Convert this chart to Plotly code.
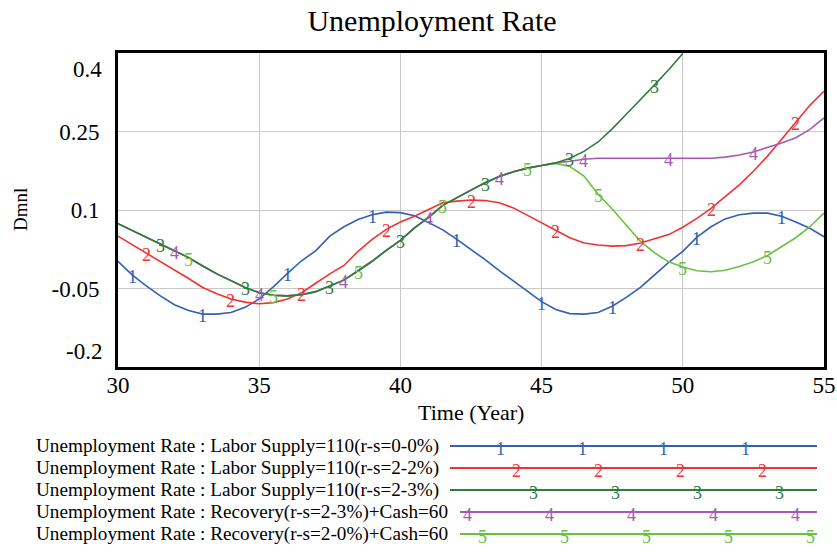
import plotly.graph_objects as go

# ---------------- data ----------------
time = [30, 30.5, 31, 31.5, 32, 32.5, 33, 33.5, 34, 34.5, 35, 35.5, 36, 36.5, 37, 37.5,
        38, 38.5, 39, 39.5, 40, 40.5, 41, 41.5, 42, 42.5, 43, 43.5, 44, 44.5, 45, 45.5,
        46, 46.5, 47, 47.5, 48, 48.5, 49, 49.5, 50, 50.5, 51, 51.5, 52, 52.5, 53, 53.5,
        54, 54.5, 55]

s1_labor_0_0 = [0.002, -0.024, -0.045, -0.064, -0.081, -0.092, -0.099, -0.099, -0.096, -0.086,
                -0.070, -0.047, -0.021, 0.003, 0.022, 0.050, 0.068, 0.082, 0.091, 0.096,
                0.095, 0.089, 0.076, 0.062, 0.044, 0.025, 0.005, -0.016, -0.036, -0.056,
                -0.075, -0.090, -0.098, -0.099, -0.096, -0.084, -0.067, -0.048, -0.024, 0.000,
                0.021, 0.048, 0.068, 0.083, 0.091, 0.094, 0.094, 0.088, 0.077, 0.065, 0.049]

s2_labor_2_2 = [0.050, 0.034, 0.018, 0.002, -0.014, -0.031, -0.048, -0.060, -0.070, -0.076,
                -0.079, -0.077, -0.070, -0.058, -0.040, -0.022, -0.006, 0.021, 0.044, 0.063,
                0.077, 0.088, 0.101, 0.114, 0.117, 0.119, 0.118, 0.114, 0.104, 0.090,
                0.076, 0.061, 0.047, 0.037, 0.033, 0.031, 0.032, 0.037, 0.045, 0.053,
                0.067, 0.084, 0.103, 0.125, 0.148, 0.174, 0.203, 0.235, 0.268, 0.300, 0.327]

s3_labor_2_3 = [0.074, 0.061, 0.048, 0.035, 0.022, 0.009, -0.007, -0.022, -0.035, -0.048,
                -0.058, -0.063, -0.064, -0.062, -0.056, -0.045, -0.034, -0.016, 0.002, 0.023,
                0.042, 0.066, 0.086, 0.109, 0.124, 0.138, 0.152, 0.164, 0.173, 0.180,
                0.185, 0.190, 0.199, 0.212, 0.230, 0.255, 0.283, 0.310, 0.339, 0.368,
                0.399, None, None, None, None, None, None, None, None, None, None]

s4_recovery_2_3 = [0.074, 0.061, 0.048, 0.035, 0.022, 0.009, -0.007, -0.022, -0.035, -0.048,
                   -0.058, -0.063, -0.064, -0.062, -0.056, -0.045, -0.034, -0.016, 0.002, 0.023,
                   0.042, 0.066, 0.086, 0.109, 0.124, 0.138, 0.152, 0.164, 0.173, 0.180,
                   0.185, 0.190, 0.193, 0.197, 0.199, 0.199, 0.199, 0.199, 0.199, 0.199,
                   0.199, 0.199, 0.199, 0.201, 0.205, 0.211, 0.219, 0.228, 0.238, 0.254, 0.276]

s5_recovery_2_0 = [0.074, 0.061, 0.048, 0.035, 0.022, 0.009, -0.007, -0.022, -0.035, -0.048,
                   -0.058, -0.063, -0.064, -0.062, -0.056, -0.045, -0.034, -0.016, 0.002, 0.023,
                   0.042, 0.066, 0.086, 0.109, 0.124, 0.138, 0.152, 0.164, 0.173, 0.180,
                   0.185, 0.189, 0.183, 0.165, 0.130, 0.102, 0.071, 0.040, 0.018, 0.001,
                   -0.009, -0.016, -0.018, -0.015, -0.008, 0.001, 0.013, 0.030, 0.047, 0.068, 0.094]

series_names = [
    "Unemployment Rate : Labor Supply=110(r-s=0-0%)",
    "Unemployment Rate : Labor Supply=110(r-s=2-2%)",
    "Unemployment Rate : Labor Supply=110(r-s=2-3%)",
    "Unemployment Rate : Recovery(r-s=2-3%)+Cash=60",
    "Unemployment Rate : Recovery(r-s=2-0%)+Cash=60",
]
series_values = [s1_labor_0_0, s2_labor_2_2, s3_labor_2_3, s4_recovery_2_3, s5_recovery_2_0]
series_digits = ["1", "2", "3", "4", "5"]
series_colors = ["#3160B4", "#F23232", "#2F7D3A", "#A65AB4", "#6CC040"]

# times at which the series number is written on each curve
label_times = [
    [30.5, 33, 36, 39, 42, 45, 47.5, 50.5, 53.5],
    [31, 34, 36.5, 39.5, 42.5, 45.5, 48.5, 51, 54],
    [31.5, 34.5, 37.5, 40, 43, 46, 49],
    [32, 35, 38, 41, 43.5, 46.5, 49.5, 52.5],
    [32.5, 35.5, 38.5, 41.5, 44.5, 47, 50, 53],
]

x_ticks = [30, 35, 40, 45, 50, 55]
y_inner_ticks = [0.25, 0.1, -0.05]
y_inner_ticktext = ["0.25", "0.1", "-0.05"]
y_range = [-0.2, 0.4]
y_end_labels = ["0.4", "-0.2"]

# legend digit positions along each legend sample line (pixels)
legend_digit_px = [
    [500, 582, 663, 745],
    [516, 598, 680, 762],
    [533, 615, 697, 779],
    [467, 549, 631, 713, 795],
    [482, 564, 646, 728, 810],
]

# ---------------- figure ----------------
FONT = "Liberation Serif"
W, H = 837, 552
L, R, T, B = 118, 13, 53, 185
PW, PH = W - L - R, H - T - B


def px2x(px):
    return (px - L) / PW


def py2y(py):
    return (H - B - py) / PH


fig = go.Figure()
draw_order = [0, 1, 4, 3, 2]
for i in draw_order:
    fig.add_trace(go.Scatter(
        x=time, y=series_values[i], mode="lines", name=series_names[i],
        line=dict(color=series_colors[i], width=1.6), connectgaps=False,
        hoverinfo="skip"))

annotations = []
# digits on curves
for i in range(5):
    for t in label_times[i]:
        v = series_values[i][time.index(t)]
        if v is None:
            continue
        annotations.append(dict(
            x=t, y=v, xref="x", yref="y", text=series_digits[i], showarrow=False,
            font=dict(family=FONT, size=18, color=series_colors[i]),
            xanchor="center", yanchor="middle", yshift=-2))

# end y labels drawn inside the frame (Vensim style)
annotations.append(dict(x=0, y=y_range[1], xref="paper", yref="y", text=y_end_labels[0],
                        showarrow=False, xanchor="right", yanchor="top", xshift=-14, yshift=-2,
                        font=dict(family=FONT, size=23, color="black")))
annotations.append(dict(x=0, y=y_range[0], xref="paper", yref="y", text=y_end_labels[1],
                        showarrow=False, xanchor="right", yanchor="bottom", xshift=-14, yshift=1,
                        font=dict(family=FONT, size=23, color="black")))

# axis titles
annotations.append(dict(x=0.5, y=py2y(412), xref="paper", yref="paper", text="Time (Year)",
                        showarrow=False, xanchor="center", yanchor="middle",
                        font=dict(family=FONT, size=22, color="black")))
annotations.append(dict(x=px2x(20), y=0.5, xref="paper", yref="paper", text="Dmnl",
                        showarrow=False, xanchor="center", yanchor="middle", textangle=-90,
                        font=dict(family=FONT, size=19, color="black")))

# legend block
legend_rows_py = [446, 468, 490, 512, 534]
legend_line_start_px = [450, 450, 450, 460, 460]
legend_line_end_px = 817
shapes = []
for i in range(5):
    py = legend_rows_py[i]
    annotations.append(dict(x=px2x(34), y=py2y(py), xref="paper", yref="paper",
                            text=series_names[i], showarrow=False, xanchor="left",
                            yanchor="middle", font=dict(family=FONT, size=19.2, color="black")))
    shapes.append(dict(type="line", xref="paper", yref="paper",
                       x0=px2x(legend_line_start_px[i]), x1=px2x(legend_line_end_px),
                       y0=py2y(py), y1=py2y(py),
                       line=dict(color=series_colors[i], width=2)))
    for dpx in legend_digit_px[i]:
        annotations.append(dict(x=px2x(dpx), y=py2y(py + 3), xref="paper", yref="paper",
                                text=series_digits[i], showarrow=False, xanchor="center",
                                yanchor="middle",
                                font=dict(family=FONT, size=18, color=series_colors[i])))

fig.update_layout(
    width=W, height=H,
    margin=dict(l=L, r=R, t=T, b=B, autoexpand=False),
    paper_bgcolor="white", plot_bgcolor="white",
    showlegend=False,
    font=dict(family=FONT, color="black"),
    title=dict(text="Unemployment Rate", x=432 / W, xanchor="center", xref="container",
               y=1 - 20 / H, yanchor="middle", yref="container",
               font=dict(family=FONT, size=30, color="black")),
    xaxis=dict(range=[30, 55], tickvals=x_ticks, showgrid=True, gridcolor="#C8C8C8",
               gridwidth=1, showline=True, linecolor="black", linewidth=3, mirror=True,
               ticks="", zeroline=False, tickfont=dict(family=FONT, size=23),
               ticklabelstandoff=-5, automargin=False),
    yaxis=dict(range=y_range, tickvals=y_inner_ticks, ticktext=y_inner_ticktext,
               showgrid=True, gridcolor="#C8C8C8", gridwidth=1, showline=True,
               linecolor="black", linewidth=3, mirror=True, ticks="", zeroline=False,
               tickfont=dict(family=FONT, size=23), ticklabelstandoff=11, automargin=False),
    annotations=annotations,
    shapes=shapes,
)

fig.write_html("out.html", config={"displayModeBar": False},
               post_script="document.body.style.margin='0';")
